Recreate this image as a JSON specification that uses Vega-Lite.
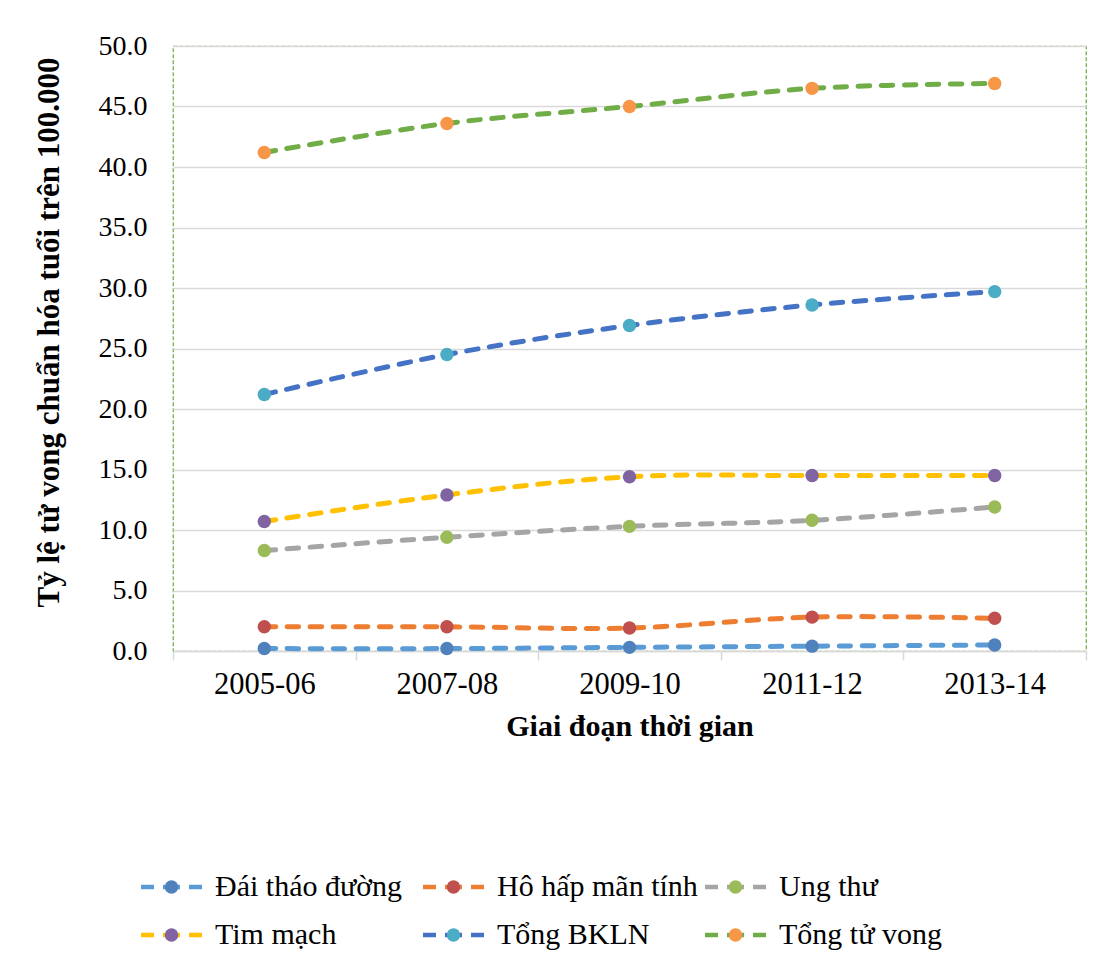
{
  "$schema": "https://vega.github.io/schema/vega-lite/v6.json",
  "width": 913,
  "height": 605,
  "autosize": {"type": "none"},
  "padding": {"left": 173, "top": 46, "right": 7, "bottom": 313},
  "background": "white",
  "config": {
    "font": "Liberation Serif",
    "view": {"stroke": "#70AD47", "strokeDash": [4, 2], "strokeWidth": 1.25}
  },
  "data": {
    "values": [
      {"period": "2005-06", "series": "Đái tháo đường", "rate": 0.2},
      {"period": "2007-08", "series": "Đái tháo đường", "rate": 0.2},
      {"period": "2009-10", "series": "Đái tháo đường", "rate": 0.3},
      {"period": "2011-12", "series": "Đái tháo đường", "rate": 0.4},
      {"period": "2013-14", "series": "Đái tháo đường", "rate": 0.5},
      {"period": "2005-06", "series": "Hô hấp mãn tính", "rate": 2.0},
      {"period": "2007-08", "series": "Hô hấp mãn tính", "rate": 2.0},
      {"period": "2009-10", "series": "Hô hấp mãn tính", "rate": 1.9},
      {"period": "2011-12", "series": "Hô hấp mãn tính", "rate": 2.8},
      {"period": "2013-14", "series": "Hô hấp mãn tính", "rate": 2.7},
      {"period": "2005-06", "series": "Ung thư", "rate": 8.3},
      {"period": "2007-08", "series": "Ung thư", "rate": 9.4},
      {"period": "2009-10", "series": "Ung thư", "rate": 10.3},
      {"period": "2011-12", "series": "Ung thư", "rate": 10.8},
      {"period": "2013-14", "series": "Ung thư", "rate": 11.9},
      {"period": "2005-06", "series": "Tim mạch", "rate": 10.7},
      {"period": "2007-08", "series": "Tim mạch", "rate": 12.9},
      {"period": "2009-10", "series": "Tim mạch", "rate": 14.4},
      {"period": "2011-12", "series": "Tim mạch", "rate": 14.5},
      {"period": "2013-14", "series": "Tim mạch", "rate": 14.5},
      {"period": "2005-06", "series": "Tổng BKLN", "rate": 21.2},
      {"period": "2007-08", "series": "Tổng BKLN", "rate": 24.5},
      {"period": "2009-10", "series": "Tổng BKLN", "rate": 26.9},
      {"period": "2011-12", "series": "Tổng BKLN", "rate": 28.6},
      {"period": "2013-14", "series": "Tổng BKLN", "rate": 29.7},
      {"period": "2005-06", "series": "Tổng tử vong", "rate": 41.2},
      {"period": "2007-08", "series": "Tổng tử vong", "rate": 43.6},
      {"period": "2009-10", "series": "Tổng tử vong", "rate": 45.0},
      {"period": "2011-12", "series": "Tổng tử vong", "rate": 46.5},
      {"period": "2013-14", "series": "Tổng tử vong", "rate": 46.9}
    ]
  },
  "encoding": {
    "x": {
      "field": "period",
      "type": "ordinal",
      "bandPosition": 0.5,
      "scale": {"type": "band", "paddingInner": 0, "paddingOuter": 0},
      "axis": {
        "title": "Giai đoạn thời gian",
        "titleFont": "Liberation Serif",
        "titleFontSize": 30,
        "titleFontWeight": "bold",
        "titleColor": "#000000",
        "titlePadding": 12,
        "labelFont": "Liberation Serif",
        "labelFontSize": 30.5,
        "labelColor": "#000000",
        "labelAngle": 0,
        "labelPadding": 9,
        "tickBand": "extent",
        "ticks": true,
        "tickSize": 9,
        "tickColor": "#D9D9D9",
        "tickWidth": 1.5,
        "domainColor": "#D9D9D9",
        "domainWidth": 1.5,
        "grid": false
      }
    },
    "y": {
      "field": "rate",
      "type": "quantitative",
      "scale": {"domain": [0, 50], "nice": false},
      "axis": {
        "title": "Tỷ lệ tử vong chuẩn hóa tuổi trên 100.000",
        "titleFont": "Liberation Serif",
        "titleFontSize": 31,
        "titleFontWeight": "bold",
        "titleColor": "#000000",
        "titlePadding": 33,
        "titleY": 286,
        "values": [0, 5, 10, 15, 20, 25, 30, 35, 40, 45, 50],
        "format": ".1f",
        "labelFont": "Liberation Serif",
        "labelFontSize": 28,
        "labelColor": "#000000",
        "labelPadding": 26,
        "ticks": false,
        "domain": false,
        "grid": true,
        "gridColor": "#D9D9D9",
        "gridWidth": 1.5
      }
    }
  },
  "layer": [
    {
      "mark": {
        "type": "line",
        "strokeWidth": 5,
        "strokeDash": [11.5, 11.5],
        "strokeCap": "round",
        "interpolate": "cardinal",
        "tension": 0
      },
      "encoding": {
        "stroke": {
          "field": "series",
          "type": "nominal",
          "scale": {
            "domain": ["Đái tháo đường", "Hô hấp mãn tính", "Ung thư", "Tim mạch", "Tổng BKLN", "Tổng tử vong"],
            "range": ["#5B9BD5", "#ED7D31", "#A5A5A5", "#FFC000", "#4472C4", "#70AD47"]
          },
          "legend": {
            "orient": "none",
            "legendX": -38.5,
            "legendY": 826,
            "direction": "horizontal",
            "columns": 3,
            "title": null,
            "symbolType": "M-6.1,0L-3.5,0M-1.7,0L1.7,0M3.5,0L6.1,0",
            "symbolSize": 100,
            "symbolStrokeWidth": 4.5,
            "symbolFillColor": "transparent",
            "symbolDash": [],
            "symbolOffset": 22,
            "labelOffset": 28.5,
            "labelFont": "Liberation Serif",
            "labelFontSize": 30,
            "labelColor": "#000000",
            "labelLimit": 400,
            "gridAlign": "all",
            "columnPadding": -5.5,
            "rowPadding": 18,
            "padding": 0,
            "zindex": 1
          }
        }
      }
    },
    {
      "mark": {"type": "point", "filled": true, "size": 180, "opacity": 1, "shape": "circle"},
      "encoding": {
        "fill": {
          "field": "series",
          "type": "nominal",
          "sort": ["Đái tháo đường", "Hô hấp mãn tính", "Ung thư", "Tim mạch", "Tổng BKLN", "Tổng tử vong"],
          "scale": {
            "range": ["#4F81BD", "#C0504D", "#9BBB59", "#8064A2", "#4BACC6", "#F79646"]
          },
          "legend": {
            "orient": "none",
            "legendX": -38.5,
            "legendY": 826,
            "direction": "horizontal",
            "columns": 3,
            "title": null,
            "symbolType": "circle",
            "symbolSize": 180,
            "symbolStrokeWidth": 0,
            "symbolOpacity": 1,
            "symbolOffset": 22,
            "labelOffset": 28.5,
            "labelFont": "Liberation Serif",
            "labelFontSize": 30,
            "labelColor": "transparent",
            "labelLimit": 400,
            "gridAlign": "all",
            "columnPadding": -5.5,
            "rowPadding": 18,
            "padding": 0,
            "zindex": 2
          }
        }
      }
    }
  ]
}
